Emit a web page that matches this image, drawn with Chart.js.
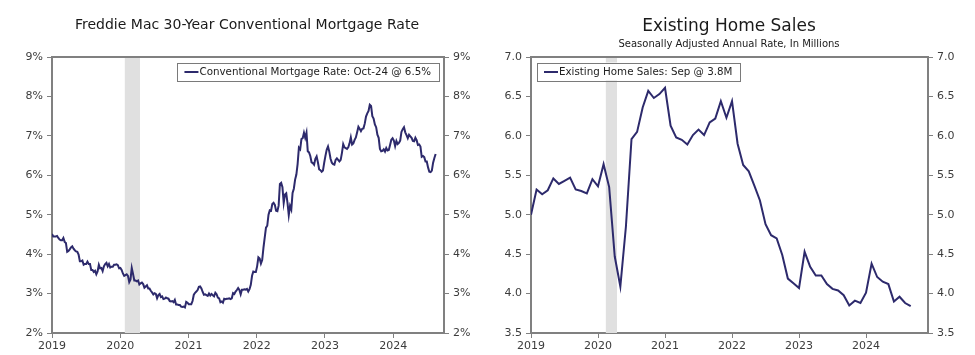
<!DOCTYPE html>
<html><head><meta charset="utf-8">
<script src="https://cdn.jsdelivr.net/npm/chart.js@4.4.1/dist/chart.umd.min.js"></script>
<style>
html,body{margin:0;padding:0;background:#fff;}
#wrap{position:relative;width:975px;height:355px;background:#fff;}
.box{position:absolute;top:0;height:355px;}
#c1box{left:0;width:487px;}
#c2box{left:487px;width:488px;}
</style></head><body>
<div id="wrap"><div class="box" id="c1box"><canvas id="c1" width="487" height="355"></canvas></div><div class="box" id="c2box"><canvas id="c2" width="488" height="355"></canvas></div></div>
<script>
// ---------------- DATA ----------------
const yearTickLabels = ['2019','2020','2021','2022','2023','2024'];

// Freddie Mac 30-yr conventional mortgage rate, weekly (%)
const mortgage2019 = [4.51,4.45,4.45,4.45,4.46,4.41,4.37,4.35,4.35,4.41,4.31,4.28,4.06,4.08,4.12,4.17,4.20,4.14,4.10,4.07,4.06,3.99,3.82,3.82,3.84,3.73,3.75,3.75,3.81,3.75,3.75,3.60,3.60,3.55,3.58,3.49,3.56,3.73,3.64,3.65,3.57,3.69,3.75,3.78,3.69,3.75,3.66,3.68,3.68,3.73,3.73,3.74];
const mortgage2020 = [3.72,3.64,3.65,3.60,3.51,3.45,3.47,3.49,3.45,3.29,3.36,3.65,3.50,3.33,3.33,3.31,3.33,3.23,3.26,3.28,3.24,3.15,3.18,3.21,3.13,3.13,3.07,3.03,2.98,3.01,2.99,2.88,2.96,2.99,2.91,2.93,2.86,2.87,2.90,2.88,2.87,2.81,2.80,2.81,2.78,2.84,2.72,2.72,2.71,2.71,2.67,2.66,2.67];
const mortgage2021 = [2.65,2.79,2.77,2.73,2.73,2.73,2.81,2.97,3.02,3.05,3.09,3.17,3.18,3.13,3.04,2.97,2.98,2.96,2.94,3.00,2.95,2.99,2.96,2.93,3.02,2.98,2.90,2.88,2.78,2.80,2.77,2.87,2.86,2.87,2.87,2.88,2.86,2.88,3.01,2.99,3.05,3.09,3.14,3.09,2.98,3.10,3.10,3.11,3.10,3.12,3.05,3.11];
const mortgage2022 = [3.22,3.45,3.56,3.55,3.55,3.69,3.92,3.89,3.76,3.85,4.16,4.42,4.67,4.72,5.00,5.11,5.10,5.27,5.30,5.25,5.10,5.09,5.23,5.78,5.81,5.70,5.30,5.51,5.54,5.30,4.99,5.22,5.13,5.55,5.66,5.89,6.02,6.29,6.70,6.66,6.92,6.94,7.08,6.95,7.08,6.61,6.58,6.49,6.33,6.31,6.27,6.42];
const mortgage2023 = [6.48,6.33,6.15,6.13,6.09,6.12,6.32,6.50,6.65,6.73,6.60,6.42,6.32,6.28,6.27,6.39,6.43,6.39,6.35,6.39,6.57,6.79,6.71,6.69,6.67,6.71,6.81,6.96,6.78,6.81,6.90,6.96,7.09,7.23,7.18,7.12,7.18,7.19,7.31,7.49,7.57,7.63,7.79,7.76,7.50,7.44,7.29,7.22,7.03,6.95,6.67,6.61];
const mortgage2024 = [6.62,6.66,6.60,6.69,6.63,6.64,6.77,6.90,6.94,6.88,6.74,6.87,6.79,6.82,6.88,7.10,7.17,7.22,7.09,7.02,6.94,7.03,6.99,6.95,6.87,6.86,6.95,6.89,6.77,6.78,6.73,6.47,6.49,6.46,6.35,6.35,6.20,6.09,6.08,6.12,6.32,6.44,6.54];
const mortgageRate = [].concat(mortgage2019, mortgage2020, mortgage2021, mortgage2022, mortgage2023, mortgage2024);
const mortgageRecession = [57.5, 69.5];          // in weekly-observation units
const mortgageYearSpan = 53.9;                    // observations per year tick on the source axis

// Existing home sales, SAAR, millions, monthly Jan-2019 .. Sep-2024
const sales2019 = [5.00,5.32,5.26,5.31,5.46,5.39,5.43,5.47,5.32,5.30,5.27,5.45];
const sales2020 = [5.36,5.64,5.35,4.47,4.09,4.85,5.96,6.05,6.36,6.57,6.48,6.53];
const sales2021 = [6.61,6.13,5.98,5.95,5.89,6.01,6.08,6.01,6.17,6.22,6.44,6.23];
const sales2022 = [6.44,5.90,5.63,5.55,5.37,5.18,4.88,4.74,4.70,4.49,4.19,4.13];
const sales2023 = [4.07,4.53,4.34,4.23,4.23,4.12,4.06,4.04,3.98,3.85,3.91,3.88];
const sales2024 = [4.01,4.38,4.21,4.15,4.12,3.90,3.96,3.88,3.84];
const homeSales = [].concat(sales2019, sales2020, sales2021, sales2022, sales2023, sales2024);
const salesRecession = [13.4, 15.4];              // in month units (Jan-2019 = 0)

const mortgageLegend = 'Conventional Mortgage Rate: Oct-24 @ 6.5%';
const salesLegend = 'Existing Home Sales: Sep @ 3.8M';

// ---------------- STYLE ----------------
const FONT = '"DejaVu Sans", Verdana, sans-serif';
const LINE = '#2d2a6c';
const AXIS = '#808080';
const TXT = '#3c3c3c';

const framePlugin = {
  id: 'frame',
  beforeDatasetsDraw(chart, args, o) {
    const {ctx, chartArea: a, scales} = chart;
    const x = scales.x;
    ctx.save();
    ctx.fillStyle = '#e0e0e0';
    const x0 = x.getPixelForValue(o.band[0]), x1 = x.getPixelForValue(o.band[1]);
    ctx.fillRect(x0, a.top, x1 - x0, a.bottom - a.top);
    ctx.restore();
  },
  afterDraw(chart, args, o) {
    const {ctx, chartArea: a} = chart;
    ctx.save();
    // top frame line
    ctx.strokeStyle = AXIS; ctx.lineWidth = 2;
    ctx.beginPath(); ctx.moveTo(a.left, a.top); ctx.lineTo(a.right, a.top); ctx.stroke();
    // titles
    ctx.fillStyle = '#1a1a1a';
    ctx.textAlign = 'center'; ctx.textBaseline = 'middle';
    ctx.font = o.titleSize + 'px ' + FONT;
    ctx.fillText(o.title, o.titleX, o.titleY);
    if (o.subtitle) {
      ctx.font = o.subSize + 'px ' + FONT;
      ctx.fillText(o.subtitle, o.titleX, o.subY);
    }
    // legend box
    ctx.font = '10.3px ' + FONT;
    const label = chart.data.datasets[0].label;
    const tw = ctx.measureText(label).width;
    const w = 7 + 14 + 1 + tw + 8, h = 18;
    const bx = o.legendAlign === 'right' ? a.right - 5 - w : a.left + 6;
    const by = a.top + 5.5;
    ctx.fillStyle = '#fff';
    ctx.fillRect(bx, by, w, h);
    ctx.strokeStyle = '#7a7a7a'; ctx.lineWidth = 1;
    ctx.strokeRect(Math.round(bx) + 0.5, Math.round(by) + 0.5, Math.round(w), h);
    ctx.strokeStyle = LINE; ctx.lineWidth = 2;
    ctx.beginPath(); ctx.moveTo(bx + 7, by + h / 2 + 0.5); ctx.lineTo(bx + 21, by + h / 2 + 0.5); ctx.stroke();
    ctx.fillStyle = '#222';
    ctx.textAlign = 'left';
    ctx.fillText(label, bx + 22, by + h / 2 + 1);
    ctx.restore();
  }
};

function yAxis(pos, min, max, step, fmt, width) {
  return {
    type: 'linear', position: pos, min: min, max: max,
    ticks: { stepSize: step, callback: fmt, color: TXT, font: { family: FONT, size: 11 }, padding: 4 },
    grid: { drawOnChartArea: false, drawTicks: true, tickLength: 5, tickColor: AXIS, tickWidth: 1 },
    border: { display: true, color: AXIS, width: 2 },
    afterFit(s) { s.width = width; }
  };
}

function xAxis(max, span, labels) {
  return {
    type: 'linear', position: 'bottom', min: 0, max: max,
    afterBuildTicks(s) { s.ticks = labels.map((_, k) => ({ value: k * span })); },
    ticks: { autoSkip: false, maxRotation: 0, color: TXT, font: { family: FONT, size: 11 }, padding: 2,
      callback: (v, i) => labels[i] },
    grid: { drawOnChartArea: false, drawTicks: true, tickLength: 5, tickColor: AXIS, tickWidth: 1 },
    border: { display: true, color: AXIS, width: 2 },
    afterFit(s) { s.height = 22; }
  };
}

// ---------------- LEFT CHART ----------------
new Chart(document.getElementById('c1'), {
  type: 'line',
  data: { datasets: [{
    label: mortgageLegend,
    data: mortgageRate.map((v, i) => ({ x: i, y: v })),
    borderColor: LINE, borderWidth: 2, pointRadius: 0, tension: 0, yAxisID: 'y'
  }]},
  options: {
    responsive: false, animation: false, devicePixelRatio: 1,
    layout: { padding: { top: 57, left: 0, right: 0, bottom: 0 } },
    plugins: { legend: { display: false }, tooltip: { enabled: false },
      frame: { band: mortgageRecession, title: 'Freddie Mac 30-Year Conventional Mortgage Rate',
        titleX: 247, titleY: 25, titleSize: 14, legendAlign: 'right' } },
    scales: {
      x: xAxis(309.6, mortgageYearSpan, yearTickLabels),
      y: yAxis('left', 2, 9, 1, v => v + '%', 52),
      y2: yAxis('right', 2, 9, 1, v => v + '%', 43)
    }
  },
  plugins: [framePlugin]
});

// ---------------- RIGHT CHART ----------------
new Chart(document.getElementById('c2'), {
  type: 'line',
  data: { datasets: [{
    label: salesLegend,
    data: homeSales.map((v, i) => ({ x: i, y: v })),
    borderColor: LINE, borderWidth: 2, pointRadius: 0, tension: 0, yAxisID: 'y'
  }]},
  options: {
    responsive: false, animation: false, devicePixelRatio: 1,
    layout: { padding: { top: 57, left: 0, right: 0, bottom: 0 } },
    plugins: { legend: { display: false }, tooltip: { enabled: false },
      frame: { band: salesRecession, title: 'Existing Home Sales', titleX: 242, titleY: 27, titleSize: 17,
        subtitle: 'Seasonally Adjusted Annual Rate, In Millions', subY: 44, subSize: 10, legendAlign: 'left' } },
    scales: {
      x: xAxis(71.1, 12, yearTickLabels),
      y: yAxis('left', 3.5, 7, 0.5, v => v.toFixed(1), 44),
      y2: yAxis('right', 3.5, 7, 0.5, v => v.toFixed(1), 47)
    }
  },
  plugins: [framePlugin]
});
</script>
</body></html>
